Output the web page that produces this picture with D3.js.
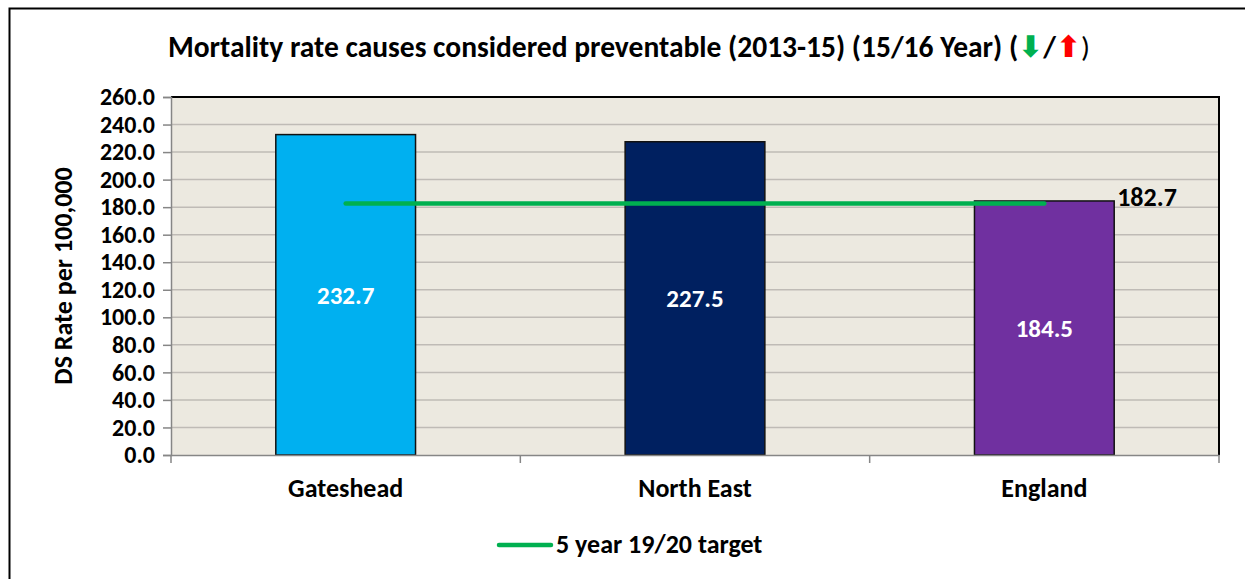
<!DOCTYPE html>
<html>
<head>
<meta charset="utf-8">
<script src="https://cdn.jsdelivr.net/npm/d3@7"></script>
<style>
  body { margin: 0; background: #fff; }
  svg { font-family: Carlito, Calibri, "Open Sans", sans-serif; font-weight: bold; }
</style>
</head>
<body>
<div id="chart"></div>
<script>
// Chart data
var areas = ['Gateshead', 'North East', 'England'];
var rates = [232.7, 227.5, 184.5];
var barColors = ['#00B0F0', '#002060', '#7030A0'];
var target = 182.7;
var yTicks = [0, 20, 40, 60, 80, 100, 120, 140, 160, 180, 200, 220, 240, 260];

var width = 1245, height = 579;
var plot = { left: 171, right: 1219, top: 97, bottom: 455 };
var fontFamily = 'Carlito, Calibri, "Open Sans", sans-serif';

var svg = d3.select('#chart').append('svg')
    .attr('width', width)
    .attr('height', height);

// Outer frame (only left and top visible)
svg.append('path')
    .attr('d', 'M9.5,579 V8.5 H1245')
    .attr('fill', 'none')
    .attr('stroke', '#000')
    .attr('stroke-width', 2);

var x = d3.scaleBand()
    .domain(areas)
    .range([plot.left, plot.right])
    .paddingInner(0.6)
    .paddingOuter(0.3);

var y = d3.scaleLinear()
    .domain([0, 260])
    .range([plot.bottom, plot.top]);

// Plot background
svg.append('rect')
    .attr('x', plot.left)
    .attr('y', plot.top)
    .attr('width', plot.right - plot.left)
    .attr('height', plot.bottom - plot.top)
    .attr('fill', '#ECE9E0');

// Gridlines
svg.append('g')
    .selectAll('line')
    .data(yTicks.slice(1))
    .enter().append('line')
    .attr('x1', plot.left)
    .attr('x2', plot.right)
    .attr('y1', function(d) { return y(d); })
    .attr('y2', function(d) { return y(d); })
    .attr('stroke', '#BFBBB6')
    .attr('stroke-width', 1.5);

// Plot border top/right
svg.append('path')
    .attr('d', 'M' + plot.left + ',' + plot.top + ' H' + plot.right + ' V' + plot.bottom)
    .attr('fill', 'none')
    .attr('stroke', '#000')
    .attr('stroke-width', 2);

// Bars
svg.append('g')
    .selectAll('rect')
    .data(areas)
    .enter().append('rect')
    .attr('x', function(d) { return x(d); })
    .attr('y', function(d, i) { return y(rates[i]); })
    .attr('width', x.bandwidth())
    .attr('height', function(d, i) { return y(0) - y(rates[i]); })
    .attr('fill', function(d, i) { return barColors[i]; })
    .attr('stroke', '#111')
    .attr('stroke-width', 1.5);

// Bar value labels
svg.append('g')
    .selectAll('text')
    .data(areas)
    .enter().append('text')
    .attr('x', function(d) { return x(d) + x.bandwidth() / 2; })
    .attr('y', function(d, i) { return (y(rates[i]) + y(0)) / 2 + 9; })
    .attr('text-anchor', 'middle')
    .attr('fill', '#fff')
    .style('font-size', '25px')
    .text(function(d, i) { return rates[i].toFixed(1); });

// Y axis
var yAxis = d3.axisLeft(y)
    .tickValues(yTicks)
    .tickFormat(d3.format('.1f'))
    .tickSize(8)
    .tickPadding(8);

var gy = svg.append('g')
    .attr('transform', 'translate(' + plot.left + ',0)')
    .call(yAxis);
gy.select('.domain').attr('stroke', '#868686').attr('stroke-width', 1.5);
gy.selectAll('.tick line').attr('stroke', '#868686').attr('stroke-width', 1.5);
gy.selectAll('.tick text')
    .attr('fill', '#000')
    .style('font-size', '24px')
    .style('font-weight', 'bold')
    .style('font-family', fontFamily);

// X axis
var xAxis = d3.axisBottom(x).tickSize(0).tickPadding(24);
var gx = svg.append('g')
    .attr('transform', 'translate(0,' + plot.bottom + ')')
    .call(xAxis);
gx.select('.domain').attr('stroke', '#868686').attr('stroke-width', 1.5);
gx.selectAll('.tick text')
    .attr('fill', '#000')
    .style('font-size', '26px')
    .style('font-weight', 'bold')
    .style('font-family', fontFamily);

// X category separator ticks
var sepX = d3.range(areas.length + 1).map(function(i) { return plot.left + i * (plot.right - plot.left) / areas.length; });
svg.append('g')
    .selectAll('line')
    .data(sepX)
    .enter().append('line')
    .attr('x1', function(d) { return d; })
    .attr('x2', function(d) { return d; })
    .attr('y1', plot.bottom)
    .attr('y2', plot.bottom + 8)
    .attr('stroke', '#868686')
    .attr('stroke-width', 1.5);

// Target line across the bar centres
var first = areas[0], last = areas[areas.length - 1];
svg.append('line')
    .attr('x1', x(first) + x.bandwidth() / 2)
    .attr('x2', x(last) + x.bandwidth() / 2)
    .attr('y1', y(target))
    .attr('y2', y(target))
    .attr('stroke', '#00B050')
    .attr('stroke-width', 4.5)
    .attr('stroke-linecap', 'round');

svg.append('text')
    .attr('x', x(last) + x.bandwidth() + 3)
    .attr('y', y(target) + 3)
    .attr('fill', '#000')
    .style('font-size', '26px')
    .text(target.toFixed(1));

// Y axis title
svg.append('text')
    .attr('transform', 'translate(72,' + ((plot.top + plot.bottom) / 2) + ') rotate(-90)')
    .attr('text-anchor', 'middle')
    .attr('fill', '#000')
    .style('font-size', '26px')
    .text('DS Rate per 100,000');

// Title
var title = svg.append('text')
    .attr('x', 629)
    .attr('y', 57)
    .attr('text-anchor', 'middle')
    .attr('fill', '#000')
    .style('font-size', '29.5px');
title.append('tspan').text('Mortality rate causes considered preventable (2013-15) (15/16 Year) (');
title.append('tspan').attr('fill', '#00B050').style('font-family', '"DejaVu Sans"').style('font-size', '30px').text('\u2B07');
title.append('tspan').text('/');
title.append('tspan').attr('fill', '#FF0000').style('font-family', '"DejaVu Sans"').style('font-size', '30px').text('\u2B06');
title.append('tspan').style('font-weight', 'normal').text(')');

// Legend
svg.append('line')
    .attr('x1', 499)
    .attr('x2', 551)
    .attr('y1', 545)
    .attr('y2', 545)
    .attr('stroke', '#00B050')
    .attr('stroke-width', 4.5)
    .attr('stroke-linecap', 'round');
svg.append('text')
    .attr('x', 556)
    .attr('y', 553)
    .attr('fill', '#000')
    .style('font-size', '26px')
    .text('5 year 19/20 target');
</script>
</body>
</html>
